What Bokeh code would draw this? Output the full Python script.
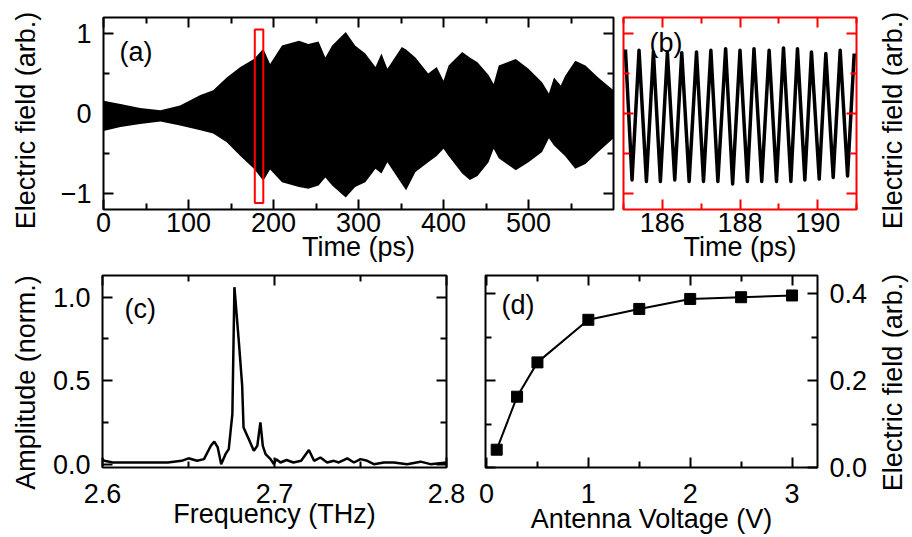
from bokeh.plotting import figure
from bokeh.layouts import column, row
from bokeh.models import FixedTicker, LinearAxis, Label, Range1d
from bokeh.embed import file_html
from bokeh.resources import INLINE

FONT = "Liberation Sans"
FS = "27px"

# ---------------- data ----------------
# (a) envelope of the time-domain field
time_a = [0, 20, 43, 67, 90, 114, 129, 145, 161, 177, 188, 196, 210, 230, 241, 253,
          261, 269, 285, 296, 308, 320, 327, 334, 351, 356, 367, 382, 392, 400, 406,
          422, 431, 440, 453, 459, 465, 485, 500, 516, 524, 530, 538, 543, 555, 567,
          582, 600]
upper_a = [0.16, 0.12, 0.07, 0.04, 0.10, 0.23, 0.29, 0.45, 0.58, 0.68, 0.81, 0.62,
           0.85, 0.91, 0.87, 0.90, 0.70, 0.85, 1.02, 0.85, 0.75, 0.58, 0.75, 0.56,
           0.83, 0.80, 0.70, 0.50, 0.58, 0.41, 0.60, 0.77, 0.70, 0.64, 0.48, 0.37,
           0.60, 0.68, 0.56, 0.39, 0.25, 0.45, 0.35, 0.47, 0.66, 0.60, 0.45, 0.29]
lower_a = [-0.22, -0.17, -0.13, -0.10, -0.15, -0.21, -0.25, -0.36, -0.53, -0.69,
           -0.84, -0.70, -0.86, -0.92, -0.94, -0.90, -0.80, -0.90, -1.05, -0.92,
           -0.86, -0.69, -0.75, -0.61, -0.88, -0.96, -0.73, -0.61, -0.53, -0.44,
           -0.53, -0.75, -0.83, -0.78, -0.61, -0.44, -0.56, -0.71, -0.61, -0.48,
           -0.31, -0.40, -0.48, -0.53, -0.69, -0.63, -0.48, -0.31]
box_t = [178, 188]
box_v = [-1.12, 1.05]

# (b) zoomed waveform: peak / trough times and values
time_b = [185.05, 185.22, 185.40, 185.59, 185.77, 185.95, 186.13, 186.32, 186.50,
          186.69, 186.88, 187.06, 187.25, 187.43, 187.63, 187.81, 188.00, 188.19,
          188.36, 188.56, 188.75, 188.94, 189.12, 189.31, 189.48, 189.67, 189.84,
          190.04, 190.21, 190.40, 190.58, 190.77, 190.94]
field_b = [0.80, -0.83, 0.79, -0.85, 0.77, -0.85, 0.76, -0.83, 0.76, -0.85, 0.77,
           -0.85, 0.79, -0.85, 0.81, -0.88, 0.79, -0.85, 0.81, -0.85, 0.79, -0.85,
           0.82, -0.85, 0.81, -0.83, 0.77, -0.82, 0.75, -0.80, 0.79, -0.78, 0.75]

# (c) spectrum
freq_c = [2.600, 2.601, 2.606, 2.618, 2.628, 2.638, 2.646, 2.650, 2.655, 2.659,
          2.663, 2.665, 2.667, 2.669, 2.6715, 2.6734, 2.6744, 2.6755, 2.6767,
          2.6793, 2.6812, 2.682, 2.685, 2.688, 2.690, 2.6918, 2.6932, 2.6948,
          2.6977, 2.6996, 2.701, 2.7035, 2.707, 2.711, 2.7155, 2.720, 2.723,
          2.7267, 2.7306, 2.7345, 2.7374, 2.7423, 2.7462, 2.750, 2.7539, 2.7578,
          2.7636, 2.7694, 2.7771, 2.7849, 2.7907, 2.800]
amp_c = [0.03, 0.02, 0.01, 0.01, 0.01, 0.01, 0.02, 0.035, 0.02, 0.03, 0.11, 0.135,
         0.10, 0.00, 0.06, 0.09, 0.19, 0.30, 1.06, 0.73, 0.47, 0.22, 0.15, 0.08,
         0.11, 0.25, 0.11, 0.06, 0.03, 0.00, 0.03, 0.01, 0.025, 0.01, 0.02, 0.085,
         0.02, 0.04, 0.01, 0.02, 0.01, 0.035, 0.01, 0.03, 0.02, 0.00, 0.01, 0.01,
         0.00, 0.015, 0.00, 0.01]

# (d) field vs antenna voltage
volt_d = [0.1, 0.3, 0.5, 1.0, 1.5, 2.0, 2.5, 3.0]
field_d = [0.041, 0.163, 0.242, 0.340, 0.365, 0.388, 0.392, 0.396]

# tick positions
a_x_major = [0, 100, 200, 300, 400, 500]
a_x_minor = [50, 150, 250, 350, 450, 550]
e_y_major = [-1, 0, 1]
e_y_minor = [-0.5, 0.5]
b_x_major = [186, 188, 190]
b_x_minor = [185, 187, 189, 191]
c_x_major = [2.6, 2.7, 2.8]
c_x_minor = [2.65, 2.75]
c_y_major = [0.0, 0.5, 1.0]
c_y_minor = [0.25, 0.75]
d_x_major = [0, 1, 2, 3]
d_x_minor = [0.5, 1.5, 2.5]
d_y_major = [0.0, 0.2, 0.4]
d_y_minor = [0.1, 0.3]

TOP_H = 270
BOT_H = 537 - TOP_H
LEFT_W = 46
RIGHT_W = 34


# ---------------- helpers ----------------
def make_fig(w, h, xr, yr, bl, br, bt, bb, outline="black", **kw):
    p = figure(width=w, height=h, x_range=Range1d(*xr), y_range=Range1d(*yr),
               min_border_left=bl, min_border_right=br, min_border_top=bt,
               min_border_bottom=bb, output_backend="svg", toolbar_location=None, **kw)
    p.grid.visible = False
    p.outline_line_color = outline
    p.outline_line_width = 2
    p.background_fill_color = "white"
    p.border_fill_color = "white"
    return p


def text_fig(w, h, text, x, y):
    """A narrow strip that only carries a rotated axis title."""
    p = figure(width=w, height=h, x_range=Range1d(0, 1), y_range=Range1d(0, 1),
               x_axis_location=None, y_axis_location=None, min_border=0,
               output_backend="svg", toolbar_location=None)
    p.grid.visible = False
    p.outline_line_color = None
    p.background_fill_color = "white"
    p.border_fill_color = "white"
    p.add_layout(Label(x=x, y=y, x_units="screen", y_units="screen", text=text,
                       text_font=FONT, text_font_size=FS, text_align="center",
                       text_baseline="alphabetic", angle=90, angle_units="deg",
                       text_color="black"))
    return p


def style_axis(ax, major, minor, color="black", labels=True, standoff=2, overrides=None,
               title=None, title_standoff=0):
    ax.ticker = FixedTicker(ticks=major, minor_ticks=minor)
    ax.major_tick_in = 10
    ax.major_tick_out = 0
    ax.minor_tick_in = 6
    ax.minor_tick_out = 0
    ax.major_tick_line_width = 2
    ax.minor_tick_line_width = 2
    ax.major_tick_line_color = color
    ax.minor_tick_line_color = color
    ax.axis_line_color = None
    if labels:
        ax.major_label_text_font = FONT
        ax.major_label_text_font_size = FS
        ax.major_label_text_color = "black"
        ax.major_label_standoff = standoff
        if overrides:
            ax.major_label_overrides = overrides
    else:
        ax.major_label_text_font_size = "1px"
        ax.major_label_text_color = None
        ax.major_label_text_alpha = 0
        ax.major_label_standoff = 0
    if title is not None:
        ax.axis_label = title
        ax.axis_label_text_font = FONT
        ax.axis_label_text_font_size = FS
        ax.axis_label_text_font_style = "normal"
        ax.axis_label_text_color = "black"
        ax.axis_label_standoff = title_standoff


def add_text(p, text, dx, dy):
    p.add_layout(Label(x=dx, y=dy, x_units="screen", y_units="screen", text=text,
                       text_font=FONT, text_font_size=FS, text_align="left",
                       text_baseline="alphabetic", text_color="black"))


RED = "red"

# ---------------- (a) ----------------
pa = make_fig(618 - LEFT_W, TOP_H, (0, 600), (-1.2, 1.2), 103 - LEFT_W, 5, 17, TOP_H - 209)
pa.varea(x=time_a, y1=lower_a, y2=upper_a, fill_color="black")
pa.quad(left=[box_t[0]], right=[box_t[1]], bottom=[box_v[0]], top=[box_v[1]],
        fill_color=None, line_color=RED, line_width=2)
style_axis(pa.xaxis[0], a_x_major, a_x_minor, standoff=3,
           title="Time (ps)", title_standoff=-3)
style_axis(pa.yaxis[0], e_y_major, e_y_minor, standoff=12)
ax_top = LinearAxis()
style_axis(ax_top, a_x_major, a_x_minor, labels=False)
pa.add_layout(ax_top, "above")
ax_r = LinearAxis()
style_axis(ax_r, e_y_major, e_y_minor, labels=False)
pa.add_layout(ax_r, "right")
add_text(pa, "(a)", 16, 158)

# ---------------- (b) ----------------
pb = make_fig(260, TOP_H, (185, 191), (-1.2, 1.2), 5, 22, 17, TOP_H - 209, outline=RED)
pb.line(x=time_b, y=field_b, line_color="black", line_width=3.5, line_join="round")
style_axis(pb.xaxis[0], b_x_major, b_x_minor, color=RED, standoff=3,
           title="Time (ps)", title_standoff=-3)
style_axis(pb.yaxis[0], e_y_major, e_y_minor, color=RED, labels=False)
bt_ax = LinearAxis()
style_axis(bt_ax, b_x_major, b_x_minor, color=RED, labels=False)
pb.add_layout(bt_ax, "above")
br_ax = LinearAxis()
style_axis(br_ax, e_y_major, e_y_minor, color=RED, labels=False)
pb.add_layout(br_ax, "right")
add_text(pb, "(b)", 26, 167)

# ---------------- (c) ----------------
pc = make_fig(465 - LEFT_W, BOT_H, (2.6, 2.8), (-0.02, 1.13), 102 - LEFT_W, 19,
              275 - TOP_H, 70)
pc.line(x=freq_c, y=amp_c, line_color="black", line_width=2.5)
style_axis(pc.xaxis[0], c_x_major, c_x_minor, standoff=16,
           overrides={2.6: "2.6", 2.7: "2.7", 2.8: "2.8"},
           title="Frequency (THz)", title_standoff=-7)
style_axis(pc.yaxis[0], c_y_major, c_y_minor, standoff=12,
           overrides={0: "0.0", 0.5: "0.5", 1: "1.0"})
ct_ax = LinearAxis()
style_axis(ct_ax, c_x_major, c_x_minor, labels=False)
pc.add_layout(ct_ax, "above")
cr_ax = LinearAxis()
style_axis(cr_ax, c_y_major, c_y_minor, labels=False)
pc.add_layout(cr_ax, "right")
add_text(pc, "(c)", 22, 159)

# ---------------- (d) ----------------
pd_ = make_fig(413, BOT_H, (-0.01, 3.25), (0, 0.442), 20, 61, 275 - TOP_H, 70,
               y_axis_location="right")
pd_.line(x=volt_d, y=field_d, line_color="black", line_width=2)
pd_.scatter(x=volt_d, y=field_d, marker="square", size=11, fill_color="black",
            line_color="black")
style_axis(pd_.xaxis[0], d_x_major, d_x_minor, standoff=16,
           title="Antenna Voltage (V)", title_standoff=-2)
style_axis(pd_.yaxis[0], d_y_major, d_y_minor, standoff=12,
           overrides={0: "0.0", 0.2: "0.2", 0.4: "0.4"})
dt_ax = LinearAxis()
style_axis(dt_ax, d_x_major, d_x_minor, labels=False)
pd_.add_layout(dt_ax, "above")
dl_ax = LinearAxis()
style_axis(dl_ax, d_y_major, d_y_minor, labels=False)
pd_.add_layout(dl_ax, "left")
add_text(pd_, "(d)", 16, 163)

# ---------------- rotated axis titles (strips in their own columns) ----------------
lt = text_fig(LEFT_W, TOP_H, "Electric field (arb.)", 25, TOP_H - 120)
lb = text_fig(LEFT_W, BOT_H, "Amplitude (norm.)", 25, 537 - 382)
rt = text_fig(RIGHT_W, TOP_H, "Electric field (arb.)", 14, TOP_H - 120)
rb = text_fig(RIGHT_W, BOT_H, "Electric field (arb.)", 14, 537 - 382)

layout = row(column(lt, lb),
             column(row(pa, pb), row(pc, pd_)),
             column(rt, rb))
open("out.html", "w").write(file_html(layout, INLINE))
